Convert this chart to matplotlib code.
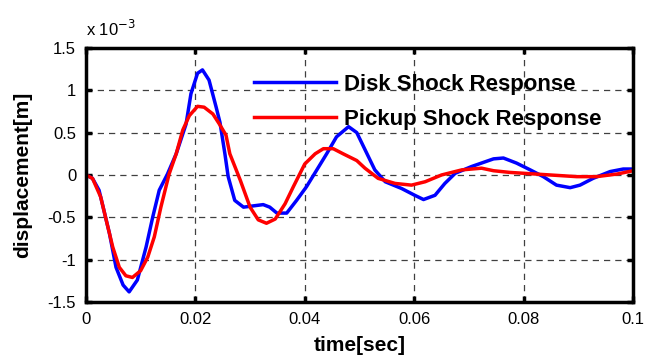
import matplotlib
matplotlib.use("Agg")
import matplotlib.pyplot as plt

plt.rcParams['font.family'] = ['Liberation Sans', 'DejaVu Sans']

# Data (displacement in units of 1e-3 m)
t_disk = [0.0, 0.0012, 0.0024, 0.0043, 0.0055, 0.0068, 0.0079, 0.0094, 0.011, 0.0122,
          0.0134, 0.0149, 0.0165, 0.0183, 0.0192, 0.0204, 0.0213, 0.0225, 0.0238, 0.0245,
          0.0254, 0.026, 0.0272, 0.0288, 0.0324, 0.0336, 0.0349, 0.0367, 0.0385, 0.0403,
          0.0422, 0.044, 0.0458, 0.048, 0.0495, 0.051, 0.0528, 0.0547, 0.0577, 0.0601,
          0.0617, 0.0638, 0.0656, 0.0675, 0.0705, 0.0745, 0.0763, 0.0787, 0.0812, 0.0836,
          0.086, 0.0885, 0.0903, 0.0927, 0.0958, 0.0982, 0.1]
disk = [0.0, -0.04, -0.18, -0.69, -1.09, -1.3, -1.38, -1.24, -0.85, -0.5,
        -0.18, 0.01, 0.25, 0.6, 0.96, 1.2, 1.24, 1.12, 0.8, 0.62,
        0.25, -0.02, -0.3, -0.38, -0.35, -0.38, -0.45, -0.45, -0.3, -0.14,
        0.06, 0.25, 0.45, 0.57, 0.5, 0.3, 0.06, -0.08, -0.16, -0.24,
        -0.29, -0.24, -0.1, 0.02, 0.1, 0.19, 0.2, 0.14, 0.06, -0.02,
        -0.12, -0.15, -0.12, -0.04, 0.04, 0.07, 0.07]

t_pickup = [0.0, 0.0012, 0.0027, 0.0037, 0.0049, 0.0061, 0.0073, 0.0085, 0.01, 0.0113,
            0.0125, 0.0137, 0.0152, 0.0165, 0.0177, 0.0189, 0.0204, 0.0216, 0.0232, 0.0244,
            0.0256, 0.0263, 0.0282, 0.03, 0.0315, 0.033, 0.0346, 0.0364, 0.0379, 0.04,
            0.0419, 0.0434, 0.0452, 0.047, 0.0495, 0.051, 0.0534, 0.0565, 0.0595, 0.062,
            0.065, 0.0687, 0.0723, 0.0745, 0.0775, 0.0824, 0.0897, 0.0933, 0.097, 0.1]
pickup = [0.0, -0.04, -0.26, -0.53, -0.85, -1.09, -1.19, -1.21, -1.13, -0.97,
          -0.73, -0.38, 0.01, 0.25, 0.53, 0.7, 0.81, 0.8, 0.72, 0.6,
          0.47, 0.25, -0.06, -0.38, -0.53, -0.57, -0.52, -0.34, -0.14, 0.13,
          0.25, 0.31, 0.31, 0.25, 0.17, 0.08, -0.04, -0.1, -0.12, -0.08,
          0.0, 0.06, 0.08, 0.05, 0.03, 0.01, -0.02, -0.02, 0.01, 0.05]

xticks = [0, 0.02, 0.04, 0.06, 0.08, 0.1]
xticklabels = ['0', '0.02', '0.04', '0.06', '0.08', '0.1']
yticks = [-1.5, -1, -0.5, 0, 0.5, 1, 1.5]
yticklabels = ['-1.5', '-1', '-0.5', '0', '0.5', '1', '1.5']

fig = plt.figure(figsize=(6.46, 3.6), dpi=100)
ax = fig.add_axes([0.133, 0.161, 0.847, 0.706])

ax.plot(t_disk, disk, color='#0000ff', lw=2.5, label='Disk Shock Response')
ax.plot(t_pickup, pickup, color='#ff0000', lw=2.5, label='Pickup Shock Response')

ax.set_xlim(0, 0.1)
ax.set_ylim(-1.5, 1.5)
ax.set_xticks(xticks)
ax.set_xticklabels(xticklabels)
ax.set_yticks(yticks)
ax.set_yticklabels(yticklabels)
ax.tick_params(direction='in', length=4, width=2.5, labelsize=12, pad=7,
               top=True, right=True)
for s in ax.spines.values():
    s.set_linewidth(2.5)
ax.grid(True, color='#404040', linestyle=(0, (5, 4)), linewidth=0.9)

ax.set_xlabel('time[sec]', fontsize=15, fontweight='bold', labelpad=7)
ax.set_ylabel('displacement[m]', fontsize=15, fontweight='bold', labelpad=11)
ax.text(0, 1.045, r'x 10$^{-3}$', transform=ax.transAxes, fontsize=12)

ax.legend(loc='upper left', bbox_to_anchor=(0.27, 0.975), frameon=False,
          handlelength=3.7, handletextpad=0.35, labelspacing=0.6,
          prop={'weight': 'bold', 'size': 16})

fig.savefig('out.png', dpi=100)
